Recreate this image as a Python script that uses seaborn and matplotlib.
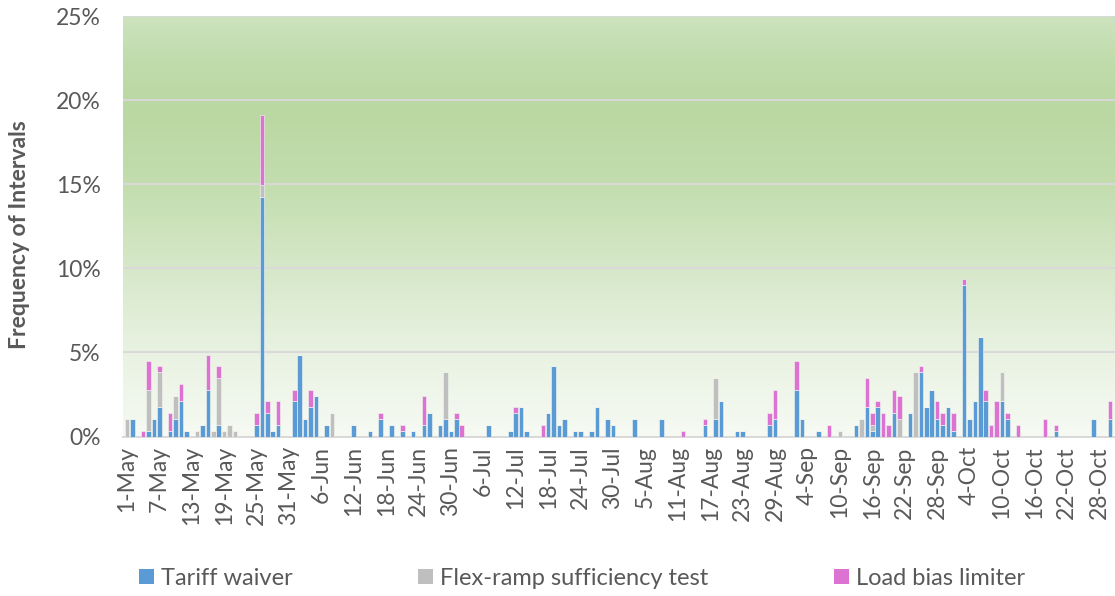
import pandas as pd
import matplotlib.pyplot as plt
import seaborn as sns
from matplotlib.colors import LinearSegmentedColormap
from matplotlib.patches import Patch
from matplotlib.ticker import PercentFormatter, MultipleLocator

# Days with at least one triggered interval, and the number of 5-minute
# intervals (out of 288 per day) flagged by each trigger on that day.
EVENT_DAYS = [
    "1-May", "2-May", "4-May", "5-May", "6-May", "7-May", "9-May", "10-May",
    "11-May", "12-May", "14-May", "15-May", "16-May", "17-May", "18-May",
    "19-May", "20-May", "21-May", "25-May", "26-May", "27-May", "28-May",
    "29-May", "1-Jun", "2-Jun", "3-Jun", "4-Jun", "5-Jun", "7-Jun", "8-Jun",
    "12-Jun", "15-Jun", "17-Jun", "19-Jun", "21-Jun", "23-Jun", "25-Jun",
    "26-Jun", "28-Jun", "29-Jun", "30-Jun", "1-Jul", "2-Jul", "7-Jul",
    "11-Jul", "12-Jul", "13-Jul", "14-Jul", "17-Jul", "18-Jul", "19-Jul",
    "20-Jul", "21-Jul", "23-Jul", "24-Jul", "26-Jul", "27-Jul", "29-Jul",
    "30-Jul", "3-Aug", "8-Aug", "12-Aug", "16-Aug", "18-Aug", "19-Aug",
    "22-Aug", "23-Aug", "28-Aug", "29-Aug", "2-Sep", "3-Sep", "6-Sep",
    "8-Sep", "10-Sep", "13-Sep", "14-Sep", "15-Sep", "16-Sep", "17-Sep",
    "18-Sep", "19-Sep", "20-Sep", "21-Sep", "23-Sep", "24-Sep", "25-Sep",
    "26-Sep", "27-Sep", "28-Sep", "29-Sep", "30-Sep", "1-Oct", "3-Oct",
    "4-Oct", "5-Oct", "6-Oct", "7-Oct", "8-Oct", "9-Oct", "10-Oct", "11-Oct",
    "13-Oct", "18-Oct", "20-Oct", "27-Oct", "30-Oct",
]
TARIFF_WAIVER = [
    0, 3, 0, 1, 3, 5, 1, 3, 6, 1, 0, 2, 8, 0, 2, 0, 0, 0, 2, 41, 4, 1, 2,
    6, 14, 3, 5, 7, 2, 0, 2, 1, 3, 2, 1, 1, 2, 4, 2, 3, 1, 3, 0, 2,
    1, 4, 5, 1, 0, 4, 12, 2, 3, 1, 1, 1, 5, 3, 2,
    3, 3, 0, 2, 3, 6, 1, 1, 2, 3,
    8, 3, 1, 0, 0, 2, 0, 5, 1, 5, 0, 0, 4, 0, 4, 0, 11, 5, 8, 3, 2, 5,
    1, 26, 3, 6, 17, 6, 0, 0, 6, 3, 0, 0, 1, 3, 3,
]
FLEX_RAMP = [
    3, 0, 0, 7, 0, 6, 0, 4, 0, 0, 1, 0, 0, 1, 8, 1, 2, 1, 0, 2, 0, 0, 0,
    0, 0, 0, 0, 0, 0, 4, 0, 0, 0, 0, 0, 0, 0, 0, 0, 8, 0, 0, 0, 0,
    0, 0, 0, 0, 0, 0, 0, 0, 0, 0, 0, 0, 0, 0, 0,
    0, 0, 0, 0, 7, 0, 0, 0, 0, 0,
    0, 0, 0, 0, 1, 0, 3, 0, 1, 0, 0, 0, 0, 3, 0, 11, 0, 0, 0, 0, 0, 0,
    0, 0, 0, 0, 0, 0, 0, 0, 5, 0, 0, 0, 0, 0, 0,
]
LOAD_BIAS = [
    0, 0, 1, 5, 0, 1, 3, 0, 3, 0, 0, 0, 6, 0, 2, 0, 0, 0, 2, 12, 2, 0, 4,
    2, 0, 0, 3, 0, 0, 0, 0, 0, 1, 0, 1, 0, 5, 0, 0, 0, 0, 1, 2, 0,
    0, 1, 0, 0, 2, 0, 0, 0, 0, 0, 0, 0, 0, 0, 0,
    0, 0, 1, 1, 0, 0, 0, 0, 2, 5,
    5, 0, 0, 2, 0, 0, 0, 5, 2, 1, 4, 2, 4, 4, 0, 0, 1, 0, 0, 3, 2, 0,
    3, 1, 0, 0, 0, 2, 2, 6, 0, 1, 2, 3, 1, 0, 3,
]
INTERVALS_PER_DAY = 288

SERIES = ["Tariff waiver", "Flex-ramp sufficiency test", "Load bias limiter"]
COLORS = ["#5b9bd5", "#bfbfbf", "#dc73d3"]

TICK_LABELS = [
    "1-May", "7-May", "13-May", "19-May", "25-May", "31-May", "6-Jun",
    "12-Jun", "18-Jun", "24-Jun", "30-Jun", "6-Jul", "12-Jul", "18-Jul",
    "24-Jul", "30-Jul", "5-Aug", "11-Aug", "17-Aug", "23-Aug", "29-Aug",
    "4-Sep", "10-Sep", "16-Sep", "22-Sep", "28-Sep", "4-Oct", "10-Oct",
    "16-Oct", "22-Oct", "28-Oct",
]

# Build a long table indexed by day number since 1-May
start = pd.Timestamp("1900-05-01")
dates = pd.to_datetime(["1900-" + d for d in EVENT_DAYS], format="%Y-%d-%b")
day_no = (dates - start).days
rows = []
for name, counts in zip(SERIES, [TARIFF_WAIVER, FLEX_RAMP, LOAD_BIAS]):
    for d, c in zip(day_no, counts):
        rows.append({"day": d, "share": c / INTERVALS_PER_DAY, "trigger": name})
df = pd.DataFrame(rows)

sns.set_theme(style="white")
plt.rcParams["font.family"] = ["Lato", "DejaVu Sans"]
text_col = "#595959"
fs = 16.5

fig = plt.figure(figsize=(11.15, 5.96), dpi=100)
ax = fig.add_axes([0.1103, 0.2676, 0.8897, 0.7055])

# green gradient backdrop of the plot area
grad = LinearSegmentedColormap.from_list(
    "bg",
    [(0.0, "#f6faf3"), (0.2, "#e9f2e2"), (0.4, "#d6e8c9"), (0.6, "#c3ddae"),
     (0.78, "#bad8a2"), (0.9, "#c1dcac"), (1.0, "#cde3bf")],
)
ax.imshow([[v / 255] for v in range(255, -1, -1)], cmap=grad, aspect="auto",
          extent=[0, 1, 0, 1], transform=ax.transAxes, zorder=0)

# seaborn stacks the first hue level on top, so feed them reversed
sns.histplot(
    data=df, x="day", weights="share", hue="trigger",
    hue_order=SERIES[::-1], palette=COLORS[::-1],
    multiple="stack", discrete=True, shrink=0.85,
    alpha=1, edgecolor="#f4f7f0", linewidth=0.4,
    legend=False, ax=ax, zorder=3,
)

ax.set_xlim(-0.74, 182.96)
ax.set_ylim(0, 0.25)
ax.yaxis.set_major_locator(MultipleLocator(0.05))
ax.yaxis.set_major_formatter(PercentFormatter(1.0, decimals=0))
ax.grid(axis="y", color="#d9d9d9", linewidth=1.4, zorder=1)
ax.set_axisbelow(True)
for side in ["top", "right", "left"]:
    ax.spines[side].set_visible(False)
ax.spines["bottom"].set_color("#d9d9d9")
ax.spines["bottom"].set_linewidth(1.4)

ax.set_xticks(range(0, 181, 6))
ax.set_xticklabels(TICK_LABELS, rotation=90, fontsize=fs, color=text_col)
ax.tick_params(axis="x", length=0, pad=7)
ax.tick_params(axis="y", length=0, pad=16, labelsize=fs, labelcolor=text_col)
ax.set_xlabel("")
ax.set_ylabel("Frequency of Intervals", fontsize=16.5, fontweight="bold",
              color=text_col)
ax.yaxis.set_label_coords(-0.094, 0.48)

handles = [Patch(facecolor=c, edgecolor="none") for c in COLORS]
fig.legend(handles, SERIES, loc="center", bbox_to_anchor=(0.522, 0.03),
           ncol=3, frameon=False, fontsize=17, labelcolor=text_col,
           handlelength=0.64, handleheight=0.61, handletextpad=0.3,
           columnspacing=5.3)

fig.savefig("out.png", dpi=100)
plt.close(fig)
